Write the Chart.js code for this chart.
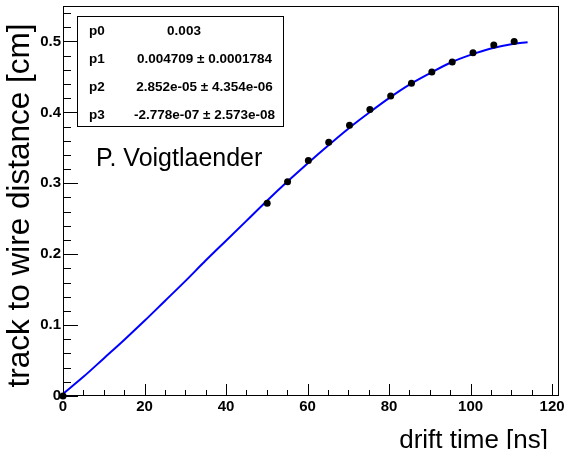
<!DOCTYPE html>
<html lang="en">
<head>
<meta charset="UTF-8" />
<title>Drift time calibration</title>
<script src="https://cdn.jsdelivr.net/npm/chart.js"></script>
<style>
  html, body { margin: 0; padding: 0; background: #fff; }
  #wrap { width: 568px; height: 449px; }
</style>
</head>
<body>
<div id="wrap"><canvas id="calib" width="568" height="449"></canvas></div>
<script>
const driftTimes = [0, 50.1, 55.1, 60.2, 65.2, 70.3, 75.3, 80.4, 85.5, 90.5, 95.5, 100.6, 105.7, 110.7];
const distances  = [0, 0.272, 0.302, 0.332, 0.358, 0.382, 0.404, 0.423, 0.441, 0.457, 0.471, 0.484, 0.495, 0.500];

// fitted curve, sampled from the drawn blue line
const fitTimes     = [0, 5, 10, 15, 20, 25, 30, 35, 40, 45, 50, 55, 60, 65, 70, 75, 80, 85, 90, 95, 100, 105, 110, 114];
const fitDistances = [0.003, 0.027, 0.053, 0.079, 0.106, 0.134, 0.162, 0.191, 0.219, 0.247, 0.275, 0.302,
                      0.328, 0.353, 0.377, 0.399, 0.420, 0.439, 0.455, 0.470, 0.481, 0.490, 0.496, 0.499];

// stats box
const fitParams = ['p0', 'p1', 'p2', 'p3'];
const fitValues = ['0.003', '0.004709 \u00b1 0.0001784', '2.852e-05 \u00b1 4.354e-06', '-2.778e-07 \u00b1 2.573e-08'];

const xTicks = [0, 20, 40, 60, 80, 100, 120];
const yTicks = [0, 0.1, 0.2, 0.3, 0.4, 0.5];

const FONT = '"Liberation Sans", Arial, Helvetica, sans-serif';

// ROOT style frame, inward ticks, titles and the stats box
const rootDecor = {
  id: 'rootDecor',
  afterDraw(chart) {
    const { ctx, chartArea: a, scales: { x, y } } = chart;
    ctx.save();
    ctx.strokeStyle = '#000';
    ctx.lineWidth = 1;
    ctx.beginPath();
    for (let i = 0; i * 5 <= x.max; i++) {
      const px = Math.round(x.getPixelForValue(i * 5)) + 0.5;
      const len = i % 4 === 0 ? 12 : 6;
      ctx.moveTo(px, a.bottom);
      ctx.lineTo(px, a.bottom - len);
    }
    for (let i = 0; i * 0.02 <= y.max + 1e-9; i++) {
      const py = Math.round(y.getPixelForValue(i * 0.02)) + 0.5;
      const len = i % 5 === 0 ? 15 : 8;
      ctx.moveTo(a.left, py);
      ctx.lineTo(a.left + len, py);
    }
    ctx.stroke();
    ctx.strokeRect(a.left + 0.5, a.top + 0.5, a.right - a.left - 1, a.bottom - a.top - 1);

    // axis titles
    ctx.fillStyle = '#000';
    ctx.font = '26px ' + FONT;
    ctx.textAlign = 'right';
    ctx.textBaseline = 'middle';
    ctx.fillText('drift time [ns]', a.right - 11, 441);

    ctx.save();
    ctx.translate(20, 205.5);
    ctx.rotate(-Math.PI / 2);
    ctx.textAlign = 'center';
    ctx.font = '31.5px ' + FONT;
    ctx.fillText('track to wire distance [cm]', 0, 0);
    ctx.restore();

    // author label
    ctx.textAlign = 'left';
    ctx.textBaseline = 'alphabetic';
    ctx.font = '25px ' + FONT;
    ctx.fillText('P. Voigtlaender', 96, 166);

    // stats box
    ctx.fillStyle = '#fff';
    ctx.fillRect(77, 16, 207, 111);
    ctx.strokeRect(77.5, 16.5, 206, 110);
    ctx.fillStyle = '#000';
    ctx.font = 'bold 13.5px ' + FONT;
    ctx.textBaseline = 'middle';
    fitParams.forEach((p, i) => {
      const ty = 31.5 + i * 27.8;
      ctx.textAlign = 'left';
      ctx.fillText(p, 89, ty);
      ctx.textAlign = 'center';
      ctx.fillText(fitValues[i], i === 0 ? 184 : 204.5, ty);
    });
    ctx.restore();
  }
};

new Chart(document.getElementById('calib'), {
  type: 'scatter',
  data: {
    datasets: [
      {
        label: 'data',
        data: driftTimes.map((t, i) => ({ x: t, y: distances[i] })),
        backgroundColor: '#000',
        borderWidth: 0,
        pointRadius: 3.5,
        clip: false
      },
      {
        label: 'fit',
        data: fitTimes.map((t, i) => ({ x: t, y: fitDistances[i] })),
        showLine: true,
        borderColor: '#0000ff',
        borderWidth: 2,
        pointRadius: 0,
        cubicInterpolationMode: 'monotone'
      }
    ]
  },
  options: {
    responsive: false,
    animation: false,
    devicePixelRatio: 1,
    layout: { padding: { top: 6, right: 9, left: 0, bottom: 0 } },
    plugins: { legend: { display: false }, tooltip: { enabled: false } },
    scales: {
      x: {
        type: 'linear',
        min: 0,
        max: 121.7,
        grid: { display: false, drawTicks: false },
        border: { display: false },
        afterBuildTicks: s => { s.ticks = xTicks.map(v => ({ value: v })); },
        afterFit: s => { s.height = 53; s.paddingLeft = 0; s.paddingRight = 0; },
        ticks: {
          padding: 2,
          maxRotation: 0,
          autoSkip: false,
          color: '#000',
          font: { family: FONT, size: 15, weight: 'bold' },
          callback: v => String(v)
        }
      },
      y: {
        type: 'linear',
        min: 0,
        max: 0.55,
        grid: { display: false, drawTicks: false },
        border: { display: false },
        afterBuildTicks: s => { s.ticks = yTicks.map(v => ({ value: v })); },
        afterFit: s => { s.width = 63; s.paddingTop = 0; s.paddingBottom = 0; },
        ticks: {
          padding: 2,
          autoSkip: false,
          color: '#000',
          font: { family: FONT, size: 15, weight: 'bold' },
          callback: v => String(+v.toFixed(2))
        }
      }
    }
  },
  plugins: [rootDecor]
});
</script>
</body>
</html>
